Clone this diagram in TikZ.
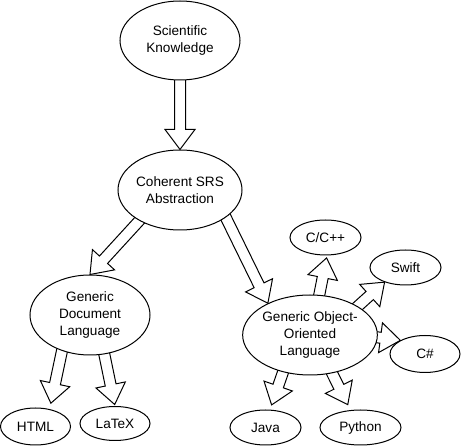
\documentclass[tikz,border=0pt]{standalone}
\usepackage{fontspec}
\setmainfont{Liberation Sans}
\usetikzlibrary{calc,shapes.geometric}
\pgfdeclarelayer{background}
\pgfsetlayers{background,main}
\newcommand\blockarr[3]{%
  \coordinate (bT) at ($#2!#3pt!#1$);
  \coordinate (bA) at ($#1!-6pt!(bT)$);
  \coordinate (bH) at ($(bT)!20pt!(bA)$);
  \draw[flexarrow] ($(bA)!5.5pt!90:(bT)$) -- ($(bH)!5.5pt!90:(bT)$) -- ($(bH)!15pt!90:(bT)$) -- (bT)
    -- ($(bH)!15pt!-90:(bT)$) -- ($(bH)!5.5pt!-90:(bT)$) -- ($(bA)!5.5pt!-90:(bT)$) -- cycle;
}
\begin{document}
\begin{tikzpicture}[x=1pt,y=-1pt,
  every node/.style={ellipse,draw,fill=white,line width=1pt,inner sep=0pt,align=center,
    font=\fontsize{13.6}{17}\selectfont},
  bigell/.style={minimum width=120pt,minimum height=80pt,
    execute at begin node={\rule{0pt}{14.5pt}}},
  smallell/.style={minimum width=71pt,minimum height=36pt},
  flexarrow/.style={draw,fill=white,line width=1pt,line join=miter}]
\useasboundingbox (0,0) rectangle (461,446);
\node[bigell,minimum height=79pt] (sk) at (180,40.5) {Scientific\\Knowledge};
\node[bigell] (coh) at (180,190) {Coherent SRS\\Abstraction};
\node[bigell] (gdl) at (90,315) {Generic\\Document\\Language};
\node[bigell] (oo) at (310,335) {Generic Object-\\Oriented\\Language};
\node[smallell,minimum width=70pt,minimum height=37pt] (html) at (35.5,426.5) {HTML};
\node[smallell,minimum width=70pt,minimum height=34pt] (latex) at (115,423.5) {LaTeX};
\node[smallell,minimum height=35pt] (cpp) at (325.5,237.5) {C/C++};
\node[smallell,minimum height=35pt] (swift) at (405.5,267.5) {Swift};
\node[smallell,minimum width=70pt,minimum height=37pt] (cs) at (425,354) {C\#};
\node[smallell,minimum height=35pt] (java) at (265.5,427.5) {Java};
\node[smallell,minimum width=81pt,minimum height=35pt] (python) at (360.5,427.5) {Python};
\begin{pgfonlayer}{background}
\blockarr{(sk.-90)}{(coh.90)}{0}
\blockarr{(coh.-143.2)}{(gdl.90)}{0}
\blockarr{(coh.-31.9)}{(oo.143.1)}{0}
\blockarr{(gdl.-128.7)}{(html.51.5)}{6}
\blockarr{(gdl.-70)}{(latex.90)}{1.5}
\blockarr{(oo.-126)}{(java.76)}{5}
\blockarr{(oo.-60)}{(python.120)}{6}
\blockarr{(oo.77)}{(cpp.-85)}{2.5}
\blockarr{(oo.31)}{(swift.-145)}{0}
\blockarr{(oo.-2)}{(cs.151)}{0}
\end{pgfonlayer}
\end{tikzpicture}
\end{document}
